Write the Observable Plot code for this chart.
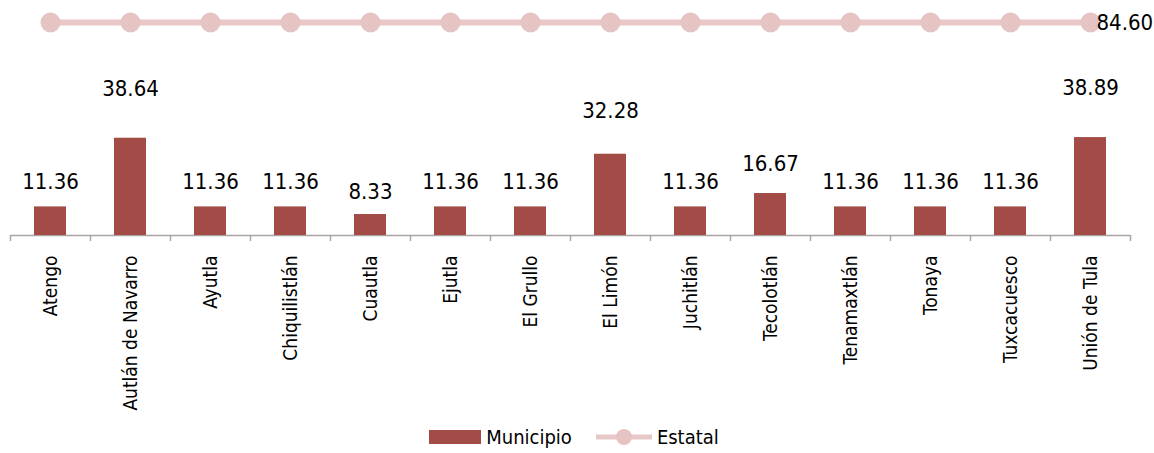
<!DOCTYPE html>
<html>
<head>
<meta charset="utf-8">
<script src="https://cdn.jsdelivr.net/npm/d3@7"></script>
<script src="https://cdn.jsdelivr.net/npm/@observablehq/plot@0.6"></script>
<style>
  body { margin: 0; background: #fff; font-family: "Liberation Sans Narrow", "DejaVu Sans Condensed", "Roboto", sans-serif; }
  #legend { height: 33px; display: flex; justify-content: center; align-items: center; gap: 24px; font-size: 20px; color: #000; padding-right: 6px; }
  .item { display: flex; align-items: center; gap: 5px; }
</style>
</head>
<body>
<div id="chart"></div>
<div id="legend">
  <div class="item"><svg width="52" height="16"><rect x="0" y="1" width="52" height="14" fill="#A34C47"/></svg><span>Municipio</span></div>
  <div class="item"><svg width="56" height="20"><line x1="0" x2="56" y1="10" y2="10" stroke="#E8C8C8" stroke-width="5"/><circle cx="28" cy="10" r="8" fill="#E6C4C4"/></svg><span>Estatal</span></div>
</div>
<script>
const categories = ["Atengo", "Autlán de Navarro", "Ayutla", "Chiquilistlán", "Cuautla", "Ejutla", "El Grullo", "El Limón", "Juchitlán", "Tecolotlán", "Tenamaxtlán", "Tonaya", "Tuxcacuesco", "Unión de Tula"];
const municipio = [11.36, 38.64, 11.36, 11.36, 8.33, 11.36, 11.36, 32.28, 11.36, 16.67, 11.36, 11.36, 11.36, 38.89];
const estatal = [84.60, 84.60, 84.60, 84.60, 84.60, 84.60, 84.60, 84.60, 84.60, 84.60, 84.60, 84.60, 84.60, 84.60];

const data = categories.map((c, i) => ({category: c, municipio: municipio[i], estatal: estatal[i]}));
const font = `"Liberation Sans Narrow", "DejaVu Sans Condensed", "Roboto", sans-serif`;

const chart = Plot.plot({
  width: 1154,
  height: 420,
  marginTop: 22,
  marginBottom: 185,
  marginLeft: 10,
  marginRight: 24,
  style: {fontFamily: font, fontSize: "19px", color: "#000", overflow: "visible"},
  x: {domain: categories, paddingInner: 0.6, paddingOuter: 0.3, label: null},
  y: {domain: [0, 84.6], axis: null},
  marks: [
    Plot.ruleY([0], {stroke: "#A6A6A6", strokeWidth: 1.5}),
    Plot.ruleX(categories, {x: d => d, y1: 0, y2: -2.4, dx: -40, stroke: "#A6A6A6", strokeWidth: 1.5}),
    Plot.ruleX(categories.slice(-1), {x: d => d, y1: 0, y2: -2.4, dx: 40, stroke: "#A6A6A6", strokeWidth: 1.5}),
    Plot.barY(data, {x: "category", y: "municipio", fill: "#A34C47"}),
    Plot.text(data, {x: "category", y: d => d.municipio * 1.35 + 6, text: d => d.municipio.toFixed(2), fontSize: 22, fill: "#000"}),
    Plot.line(data, {x: "category", y: "estatal", stroke: "#E8C8C8", strokeWidth: 6}),
    Plot.dot(data, {x: "category", y: "estatal", r: 10, fill: "#E6C4C4"}),
    Plot.text(data.slice(-1), {x: "category", y: "estatal", text: d => d.estatal.toFixed(2), textAnchor: "start", dx: 6, fontSize: 22, fill: "#000"}),
    Plot.axisX({tickRotate: -90, tickSize: 0, tickPadding: 20, fontSize: 19, fill: "#000", label: null})
  ]
});
document.getElementById("chart").appendChild(chart);
</script>
</body>
</html>
